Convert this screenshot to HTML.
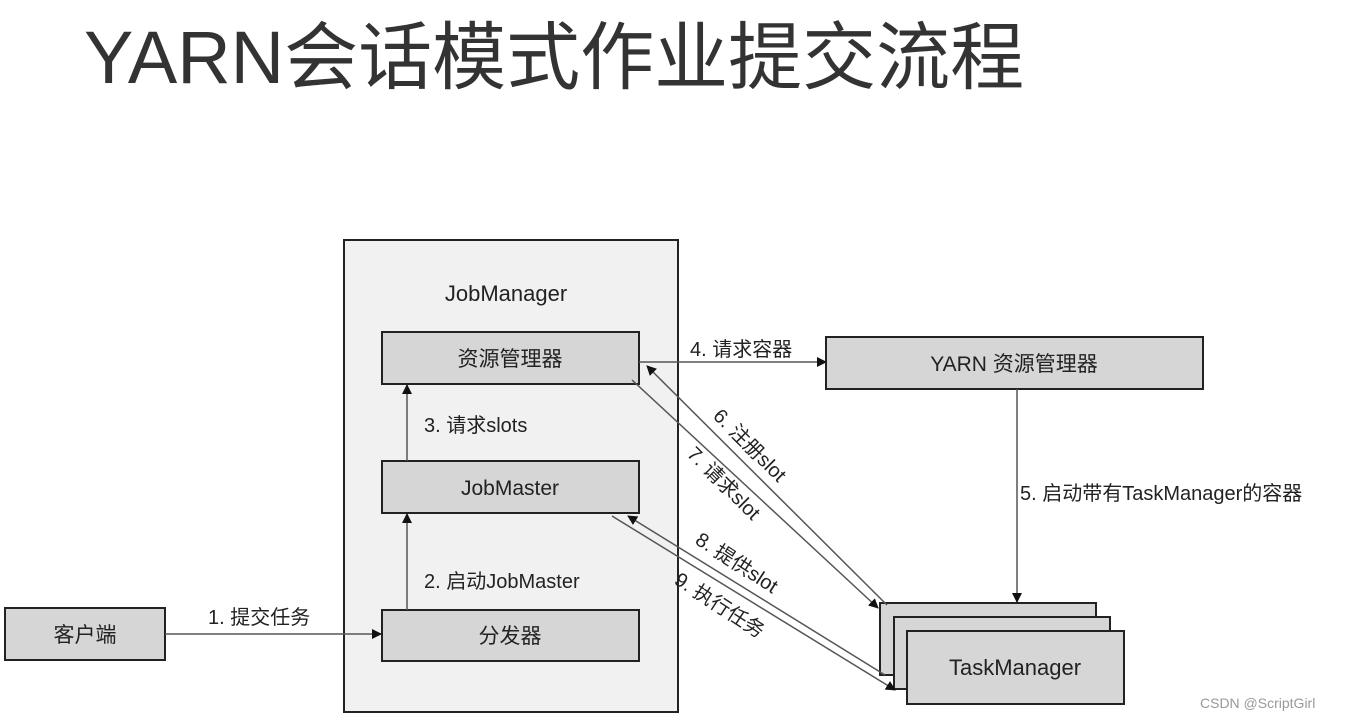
<!DOCTYPE html>
<html><head><meta charset="utf-8"><style>
body{margin:0;width:1361px;height:723px;background:#fff;overflow:hidden;font-family:"Liberation Sans","Noto Sans CJK SC",sans-serif;}
svg{position:absolute;left:0;top:0}
</style></head><body>
<svg width="1361" height="723" xmlns="http://www.w3.org/2000/svg" font-family="Liberation Sans, Noto Sans CJK SC, sans-serif">
<defs><marker id="a" markerWidth="10" markerHeight="10" refX="9" refY="5" orient="auto" markerUnits="userSpaceOnUse"><path d="M0,0 L10,5 L0,10 z" fill="#111"/></marker></defs>
<text x="84" y="83" font-size="74" fill="#333">YARN会话模式作业提交流程</text>
<rect x="344" y="240" width="334" height="472" fill="#f1f1f1" stroke="#222" stroke-width="2"/>
<text x="506" y="301" font-size="22" text-anchor="middle" fill="#222">JobManager</text>
<g fill="#d6d6d6" stroke="#222" stroke-width="2">
<rect x="382" y="332" width="257" height="52"/>
<rect x="382" y="461" width="257" height="52"/>
<rect x="382" y="610" width="257" height="51"/>
<rect x="5" y="608" width="160" height="52"/>
<rect x="826" y="337" width="377" height="52"/>
<rect x="880" y="603" width="216" height="72"/>
<rect x="894" y="617" width="216" height="72"/>
<rect x="907" y="631" width="217" height="73"/>
</g>
<g font-size="21" fill="#222" text-anchor="middle">
<text x="510" y="366">资源管理器</text>
<text x="510" y="495">JobMaster</text>
<text x="510" y="643">分发器</text>
<text x="85" y="642">客户端</text>
<text x="1014" y="371">YARN 资源管理器</text>
<text x="1015" y="675" font-size="22">TaskManager</text>
</g>
<g stroke="#555" stroke-width="1.5" fill="none" marker-end="url(#a)">
<line x1="639" y1="362" x2="826" y2="362"/>
<line x1="407" y1="461" x2="407" y2="385"/>
<line x1="407" y1="610" x2="407" y2="514"/>
<line x1="165" y1="634" x2="381" y2="634"/>
<line x1="1017" y1="389" x2="1017" y2="602"/>
<line x1="887" y1="605" x2="647" y2="366"/>
<line x1="632" y1="380" x2="878" y2="608"/>
<line x1="885" y1="675" x2="628" y2="516"/>
<line x1="612" y1="516" x2="895" y2="690"/>
</g>
<g font-size="20" fill="#222">
<text x="690" y="356">4. 请求容器</text>
<text x="424" y="432">3. 请求slots</text>
<text x="424" y="588">2. 启动JobMaster</text>
<text x="208" y="624">1. 提交任务</text>
<text x="1020" y="500">5. 启动带有TaskManager的容器</text>
<text transform="translate(712,417) rotate(45)">6. 注册slot</text>
<text transform="translate(686,455) rotate(45)">7. 请求slot</text>
<text transform="translate(694,543) rotate(33)">8. 提供slot</text>
<text transform="translate(673,583) rotate(33)">9. 执行任务</text>
</g>
<text x="1200" y="708" font-size="14" fill="#999">CSDN @ScriptGirl</text>
</svg>
</body></html>
